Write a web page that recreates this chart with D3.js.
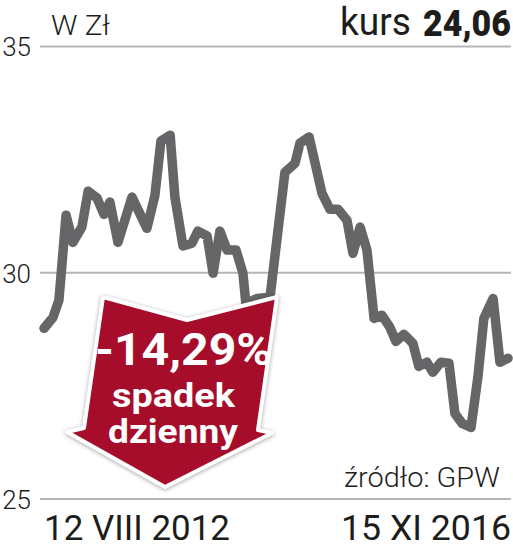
<!DOCTYPE html>
<html lang="pl">

<head>
    <meta charset="UTF-8">
    <title>kurs</title>
    <script src="https://cdnjs.cloudflare.com/ajax/libs/d3/7.8.5/d3.min.js"></script>
    <style>
        html, body { margin: 0; padding: 0; background: #fff; }
        svg { display: block; }
        text { font-family: Roboto, sans-serif; fill: #1d1d1b; }
    </style>
</head>

<body>
    <svg width="513" height="549" id="mainsvg"></svg>
    <script>
        // days since the first date
        const days = [0, 30, 50, 74, 97, 127, 148, 178, 201, 221, 248, 295, 345, 372, 392, 423, 439, 466, 496, 516, 547, 567, 590, 614, 644, 667, 677, 714, 758, 808, 842, 858, 889, 932, 959, 986, 1016, 1036, 1060, 1083, 1107, 1133, 1160, 1180, 1207, 1237, 1257, 1284, 1304, 1331, 1358, 1378, 1402, 1432, 1455, 1475, 1506, 1529, 1556];
        const prices = [28.76, 29.00, 29.38, 31.26, 30.66, 31.00, 31.79, 31.64, 31.28, 31.55, 30.66, 31.66, 30.97, 31.70, 32.90, 33.03, 31.66, 30.58, 30.64, 30.91, 30.80, 29.98, 30.91, 30.49, 30.49, 29.98, 29.31, 29.42, 29.45, 32.21, 32.41, 32.85, 32.99, 31.75, 31.39, 31.39, 31.15, 30.42, 31.00, 30.49, 28.98, 29.05, 28.78, 28.47, 28.63, 28.43, 27.92, 28.01, 27.79, 28.01, 27.99, 26.88, 26.66, 26.57, 27.68, 28.98, 29.42, 28.01, 28.10];
        const yTicks = [25, 30, 35];
        const dateLabels = ['12 VIII 2012', '15 XI 2016'];

        const svg = d3.select('#mainsvg');
        const xScale = d3.scaleLinear().domain([0, 1556]).range([44, 508]);
        const yScale = d3.scaleLinear().domain([25, 35]).range([498.5, 46]);

        // y axis, ticks run across the chart as gridlines
        const yAxis = d3.axisLeft(yScale).tickValues(yTicks).tickSize(-471).tickPadding(9);
        svg.append('g').attr('transform', 'translate(40,0)').call(yAxis)
            .call(g => g.select('.domain').remove())
            .call(g => g.selectAll('.tick line').attr('stroke', '#b5b5b5').attr('stroke-width', 2))
            .call(g => g.selectAll('.tick text')
                .attr('x', -9).attr('dy', '0.38em')
                .attr('font-size', 26).attr('font-weight', 300)
                .attr('font-family', 'Roboto, sans-serif').style('fill', '#1d1d1b'));

        const line = d3.line().x((d, i) => xScale(days[i])).y(d => yScale(d));
        svg.append('path').datum(prices)
            .attr('d', line)
            .attr('fill', 'none')
            .attr('stroke', '#666668')
            .attr('stroke-width', 9.5)
            .attr('stroke-linejoin', 'round')
            .attr('stroke-linecap', 'round');

        // arrow
        svg.append('path')
            .attr('d', 'M103,297 L187,320 L277,297 L258,430 L272,433 L165,487 L67,432 L84,428 Z')
            .attr('fill', '#a50d2a')
            .attr('stroke', '#fff')
            .attr('stroke-width', 4)
            .attr('stroke-linejoin', 'round')
            .style('filter', 'drop-shadow(0 1px 2px rgba(0,0,0,0.35))');

        // text squeezed horizontally to the width it has in the picture
        function label(txt, x, y, size, weight, len, fill) {
            const t = svg.append('text')
                .attr('font-size', size).attr('font-weight', weight)
                .style('fill', fill || '#1d1d1b')
                .text(txt);
            const w = t.node().getComputedTextLength();
            t.attr('transform', `translate(${x},${y}) scale(${len / w},1)`);
            return t;
        }

        label('-14,29%', 95, 365, 45, 700, 177, '#fff');
        label('spadek', 112, 407, 34, 700, 123, '#fff');
        label('dzienny', 108, 443, 34, 700, 130, '#fff');

        label('W Zł', 51, 35, 28, 300, 59);
        label('kurs', 340, 35, 38, 400, 71);
        label('24,06', 423, 36, 36, 900, 88);
        label('źródło: GPW', 344, 487, 27, 300, 156);
        label(dateLabels[0], 44, 540, 35, 400, 186);
        label(dateLabels[1], 341, 540, 35, 400, 170);
    </script>
</body>

</html>
